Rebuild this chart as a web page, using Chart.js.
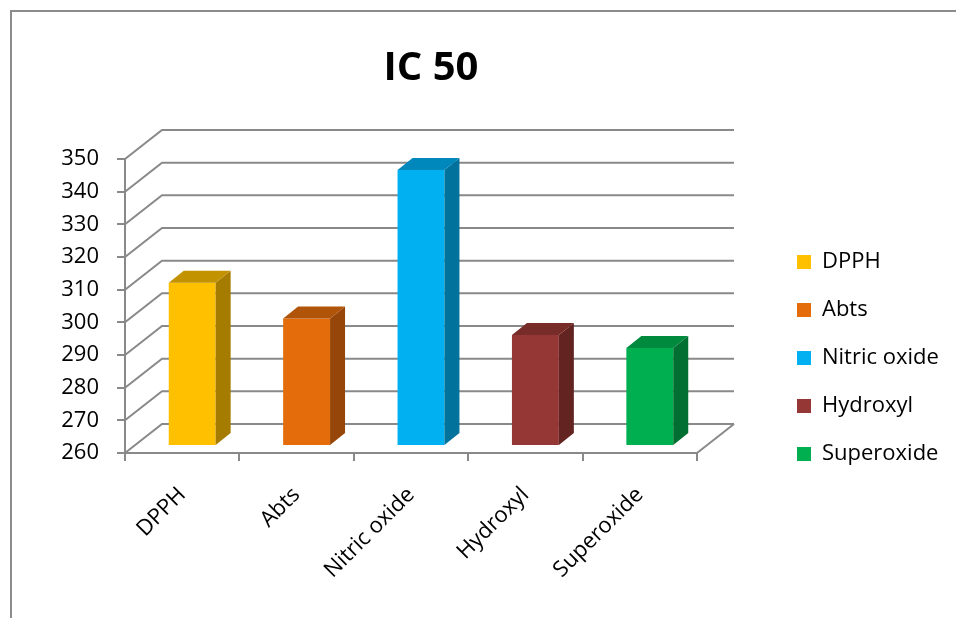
<!DOCTYPE html>
<html>
<head>
<meta charset="utf-8">
<script src="https://cdn.jsdelivr.net/npm/chart.js@4.4.1/dist/chart.umd.min.js"></script>
<style>
html,body{margin:0;padding:0;background:#fff;}
#wrap{width:956px;height:618px;position:relative;}
</style>
</head>
<body>
<div id="wrap"><canvas id="c" width="956" height="618"></canvas></div>
<script>
// ---- data ----
const chartTitle = 'IC 50';
const categories = ['DPPH', 'Abts', 'Nitric oxide', 'Hydroxyl', 'Superoxide'];
const ic50Values = [310, 299, 344.5, 294, 290];
const yMin = 260;
const yMax = 350;
const yStep = 10;

// ---- styles ----
const frontColors = ['#FFC000', '#E46C0A', '#00B0F0', '#953735', '#00B050'];
const topColors   = ['#C39200', '#B0540A', '#0088BC', '#772C2A', '#008A3E'];
const sideColors  = ['#A67C00', '#97460A', '#00729C', '#632321', '#006F31'];
const GRID = '#898989';
const WALL = {dx: 37, dy: -29};
const BAR_OFF = {dx: 10, dy: -7};
const BAR_DEPTH = {dx: 15, dy: -12};
const FONT = "'Open Sans', 'Noto Sans', sans-serif";

const threeD = {
  id: 'threeD',
  beforeDraw(chart) {
    const ctx = chart.ctx;
    ctx.save();
    ctx.fillStyle = '#fff';
    ctx.fillRect(0, 0, chart.width, chart.height);
    ctx.strokeStyle = '#8c8c8c';
    ctx.lineWidth = 2;
    ctx.strokeRect(11, 11, chart.width + 40, chart.height + 40);
    ctx.restore();
  },
  afterLayout(chart) {
    const tb = chart.titleBlock;
    if (tb) { tb.left = 0; tb.right = 862; tb.width = 862; }
    const lg = chart.legend;
    if (lg) {
      lg.left = 771; lg.right = chart.width; lg.width = lg.right - lg.left;
      lg.top = 225; lg.bottom = chart.height; lg.height = lg.bottom - lg.top;
    }
  },
  beforeDatasetsDraw(chart) {
    const {ctx, chartArea: a, scales: {y}} = chart;
    ctx.save();
    ctx.strokeStyle = GRID;
    ctx.lineWidth = 2;
    y.ticks.forEach(t => {
      const py = y.getPixelForValue(t.value);
      ctx.beginPath();
      ctx.moveTo(a.left, py);
      ctx.lineTo(a.left + WALL.dx, py + WALL.dy);
      ctx.lineTo(a.right + WALL.dx, py + WALL.dy);
      ctx.stroke();
    });
    ctx.beginPath();
    ctx.moveTo(a.right, a.bottom);
    ctx.lineTo(a.right + WALL.dx, a.bottom + WALL.dy);
    ctx.stroke();
    ctx.restore();
    ctx.save();
    ctx.translate(BAR_OFF.dx, BAR_OFF.dy);
  },
  afterDatasetsDraw(chart) {
    const ctx = chart.ctx;
    const meta = chart.getDatasetMeta(0);
    meta.data.forEach((bar, i) => {
      const {x, y, base, width} = bar.getProps(['x', 'y', 'base', 'width'], true);
      const l = x - width / 2, r = x + width / 2;
      const dx = BAR_DEPTH.dx, dy = BAR_DEPTH.dy;
      ctx.fillStyle = sideColors[i];
      ctx.beginPath();
      ctx.moveTo(r, y); ctx.lineTo(r + dx, y + dy); ctx.lineTo(r + dx, base + dy); ctx.lineTo(r, base);
      ctx.closePath(); ctx.fill();
      ctx.fillStyle = topColors[i];
      ctx.beginPath();
      ctx.moveTo(l, y); ctx.lineTo(l + dx, y + dy); ctx.lineTo(r + dx, y + dy); ctx.lineTo(r, y);
      ctx.closePath(); ctx.fill();
    });
    ctx.restore();
  }
};

function draw() {
  Chart.defaults.font.family = FONT;
  new Chart(document.getElementById('c'), {
    type: 'bar',
    data: {
      labels: categories,
      datasets: [{
        label: chartTitle,
        data: ic50Values,
        base: yMin,
        backgroundColor: frontColors,
        borderWidth: 0,
        barPercentage: 0.41,
        categoryPercentage: 1,
        clip: false
      }]
    },
    options: {
      responsive: false,
      animation: false,
      events: [],
      layout: {padding: {top: 0, left: 0, right: 8, bottom: 0}},
      plugins: {
        title: {
          display: true,
          text: chartTitle,
          color: '#000',
          font: {size: 40, weight: 'bold', family: FONT, lineHeight: 1.2},
          padding: {top: 45, bottom: 66}
        },
        legend: {
          display: true,
          position: 'right',
          align: 'start',
          labels: {
            color: '#000',
            font: {size: 22, family: FONT},
            boxWidth: 14,
            boxHeight: 14,
            padding: 26,
            generateLabels: () => categories.map((c, i) => ({
              text: c, fillStyle: frontColors[i], strokeStyle: frontColors[i],
              lineWidth: 0, hidden: false, index: i, datasetIndex: 0
            }))
          }
        },
        tooltip: {enabled: false}
      },
      scales: {
        x: {
          grid: {display: true, drawOnChartArea: false, drawTicks: true, tickLength: 8, color: GRID, lineWidth: 2, offset: true},
          border: {display: true, color: GRID, width: 2},
          ticks: {color: '#000', font: {size: 22, family: FONT}, minRotation: 45, maxRotation: 45, autoSkip: false, padding: 21},
          afterFit(s) { s.height = 165; }
        },
        y: {
          min: yMin, max: yMax,
          grid: {display: true, drawOnChartArea: false, drawTicks: true, tickLength: 8, color: GRID, lineWidth: 2},
          border: {display: true, color: GRID, width: 2},
          ticks: {stepSize: yStep, color: '#000', font: {size: 22, family: FONT}, padding: 18},
          afterFit(s) { s.width = 125; }
        },
        y2: {
          position: 'right',
          display: true,
          grid: {display: false},
          border: {display: false},
          ticks: {display: false},
          afterFit(s) { s.width = 93; }
        }
      }
    },
    plugins: [threeD]
  });
}

if (document.fonts && document.fonts.load) {
  Promise.all([
    document.fonts.load("22px 'Open Sans'"),
    document.fonts.load("bold 40px 'Open Sans'")
  ]).then(draw, draw);
} else {
  draw();
}
</script>
</body>
</html>
